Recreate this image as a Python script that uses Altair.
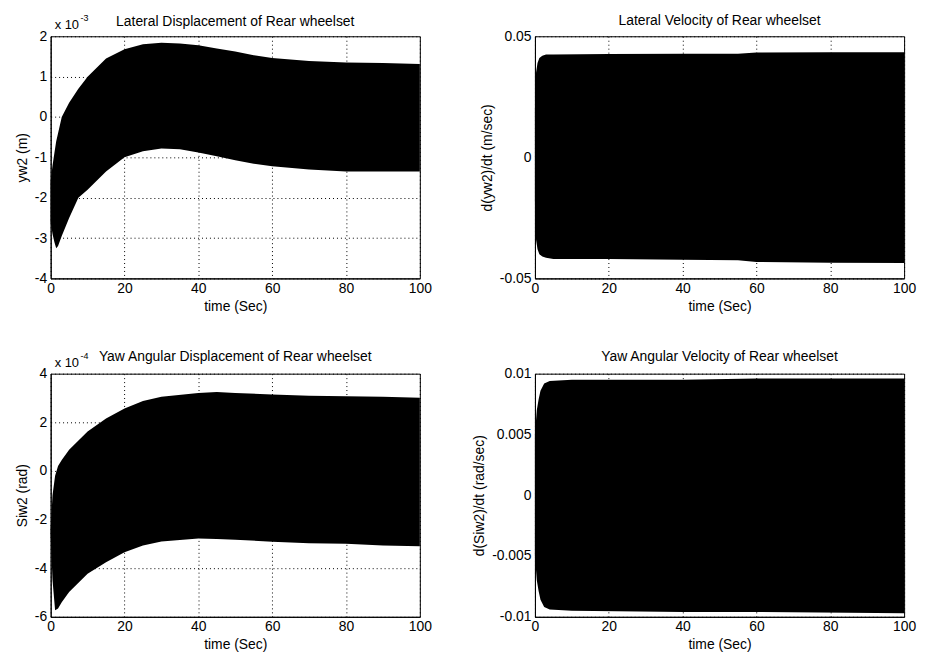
import altair as alt
import pandas as pd

# ---- data ----
# Panel 1: lateral displacement yw2 (x 1e-3 m), envelope of the oscillation
t1 = [0, 0.5, 1, 1.5, 2, 3, 5, 7.5, 10, 15, 20, 25, 30, 35, 40, 45, 50, 55, 60, 70, 80, 90, 100]
up1 = [-1.6, -1.2, -0.9, -0.6, -0.4, 0.0, 0.35, 0.7, 1.0, 1.45, 1.68, 1.8, 1.84, 1.82, 1.78, 1.7, 1.62, 1.53, 1.46, 1.39, 1.35, 1.34, 1.31]
lo1 = [-2.6, -2.9, -3.1, -3.25, -3.2, -2.95, -2.5, -2.0, -1.8, -1.35, -1.0, -0.85, -0.78, -0.8, -0.88, -0.97, -1.07, -1.16, -1.22, -1.30, -1.35, -1.35, -1.35]

# Panel 2: lateral velocity d(yw2)/dt (m/sec)
t2 = [0, 0.3, 0.7, 1.2, 2, 3, 5, 20, 40, 55, 60, 80, 100]
up2 = [0.02, 0.035, 0.039, 0.041, 0.042, 0.0425, 0.0425, 0.0427, 0.0428, 0.0428, 0.0433, 0.0434, 0.0434]
lo2 = [-0.018, -0.034, -0.038, -0.040, -0.041, -0.0415, -0.042, -0.042, -0.0423, -0.0425, -0.0432, -0.0435, -0.0436]

# Panel 3: yaw angular displacement Siw2 (x 1e-4 rad)
t3 = [0, 0.5, 1.2, 2, 3, 5, 10, 15, 20, 25, 30, 40, 45, 50, 60, 70, 80, 90, 100]
up3 = [-2.4, -1.0, -0.2, 0.2, 0.45, 0.87, 1.62, 2.16, 2.57, 2.88, 3.05, 3.21, 3.25, 3.21, 3.14, 3.09, 3.07, 3.05, 3.01]
lo3 = [-2.6, -4.5, -5.73, -5.66, -5.4, -4.98, -4.23, -3.76, -3.35, -3.07, -2.9, -2.78, -2.8, -2.83, -2.91, -2.97, -3.0, -3.07, -3.1]

# Panel 4: yaw angular velocity d(Siw2)/dt (rad/sec)
t4 = [0, 0.5, 1, 1.5, 2.5, 4, 10, 40, 60, 100]
up4 = [0.005, 0.007, 0.0079, 0.0086, 0.0092, 0.0094, 0.0095, 0.0095, 0.0096, 0.0096]
lo4 = [-0.005, -0.007, -0.0079, -0.0086, -0.0092, -0.0094, -0.0095, -0.0096, -0.0096, -0.0097]

x_ticks = [0, 20, 40, 60, 80, 100]
y_ticks1 = [-4, -3, -2, -1, 0, 1, 2]
y_ticks2 = [-0.05, 0, 0.05]
y_ticks3 = [-6, -4, -2, 0, 2, 4]
y_ticks4 = [-0.01, -0.005, 0, 0.005, 0.01]

titles = ["Lateral Displacement of Rear wheelset", "Lateral Velocity of Rear wheelset",
          "Yaw Angular Displacement of Rear wheelset", "Yaw Angular Velocity of Rear wheelset"]
ytitles = ["yw2 (m)", "d(yw2)/dt (m/sec)", "Siw2 (rad)", "d(Siw2)/dt (rad/sec)"]

FONT = "Liberation Sans"


def panel(t, up, lo, title, ytitle, yticks, w, h, title_dy, exp=None):
    df = pd.DataFrame({"t": t, "upper": up, "lower": lo})
    ydom = [min(yticks), max(yticks)]
    x = alt.X("t:Q", title="time (Sec)",
              scale=alt.Scale(domain=[0, 100], nice=False, zero=False),
              axis=alt.Axis(values=x_ticks, labelExpr="''+datum.value"))
    y = alt.Y("upper:Q", title=ytitle,
              scale=alt.Scale(domain=ydom, nice=False, zero=False),
              axis=alt.Axis(values=yticks, labelExpr="''+datum.value"))
    area = alt.Chart(df).mark_area(color="black", opacity=1, interpolate="linear").encode(
        x=x, y=y, y2="lower:Q")
    layers = [area]
    # chart title as a text mark centred over the plot
    tdf = pd.DataFrame({"t": [50], "v": [ydom[1]], "label": [title]})
    layers.append(alt.Chart(tdf).mark_text(align="center", baseline="alphabetic",
                                           font=FONT, fontSize=14, dy=title_dy, color="black")
                  .encode(x="t:Q", y="v:Q", text="label:N"))
    if exp is not None:
        edf = pd.DataFrame({"t": [0], "v": [ydom[1]], "base": ["x 10"], "exp": [exp]})
        base = alt.Chart(edf)
        layers.append(base.mark_text(align="left", baseline="alphabetic",
                                     font=FONT, fontSize=13, dx=4, dy=-7, color="black")
                      .encode(x="t:Q", y="v:Q", text="base:N"))
        layers.append(base.mark_text(align="left", baseline="alphabetic",
                                     font=FONT, fontSize=9, dx=30, dy=-15, color="black")
                      .encode(x="t:Q", y="v:Q", text="exp:N"))
    return alt.layer(*layers).properties(width=w, height=h)


p1 = panel(t1, up1, lo1, titles[0], ytitles[0], y_ticks1, 372, 244, -10, exp="-3")
p2 = panel(t2, up2, lo2, titles[1], ytitles[1], y_ticks2, 372, 244, -11)
p3 = panel(t3, up3, lo3, titles[2], ytitles[2], y_ticks3, 372, 245, -13, exp="-4")
p4 = panel(t4, up4, lo4, titles[3], ytitles[3], y_ticks4, 372, 245, -13)

chart = alt.concat(p1, p2, p3, p4, columns=2, bounds="flush",
                   spacing={"row": 96, "column": 116}).properties(
    padding={"left": 7, "top": 3, "right": 0, "bottom": 0},
    background="white",
).configure_view(
    stroke="black", strokeWidth=1
).configure_axis(
    domain=True, domainColor="black", domainWidth=1,
    ticks=False, labelPadding=4, labelFlush=False,
    labelFont=FONT, labelFontSize=14, labelColor="black",
    titleFont=FONT, titleFontSize=14, titleFontWeight="normal", titleColor="black",
    titlePadding=5,
    grid=True, gridColor="black", gridDash=[1, 3], gridOpacity=1, gridWidth=1,
).configure_axisX(labelPadding=3, titlePadding=4)

chart.save("out.html", embed_options={"renderer": "svg", "actions": False})
